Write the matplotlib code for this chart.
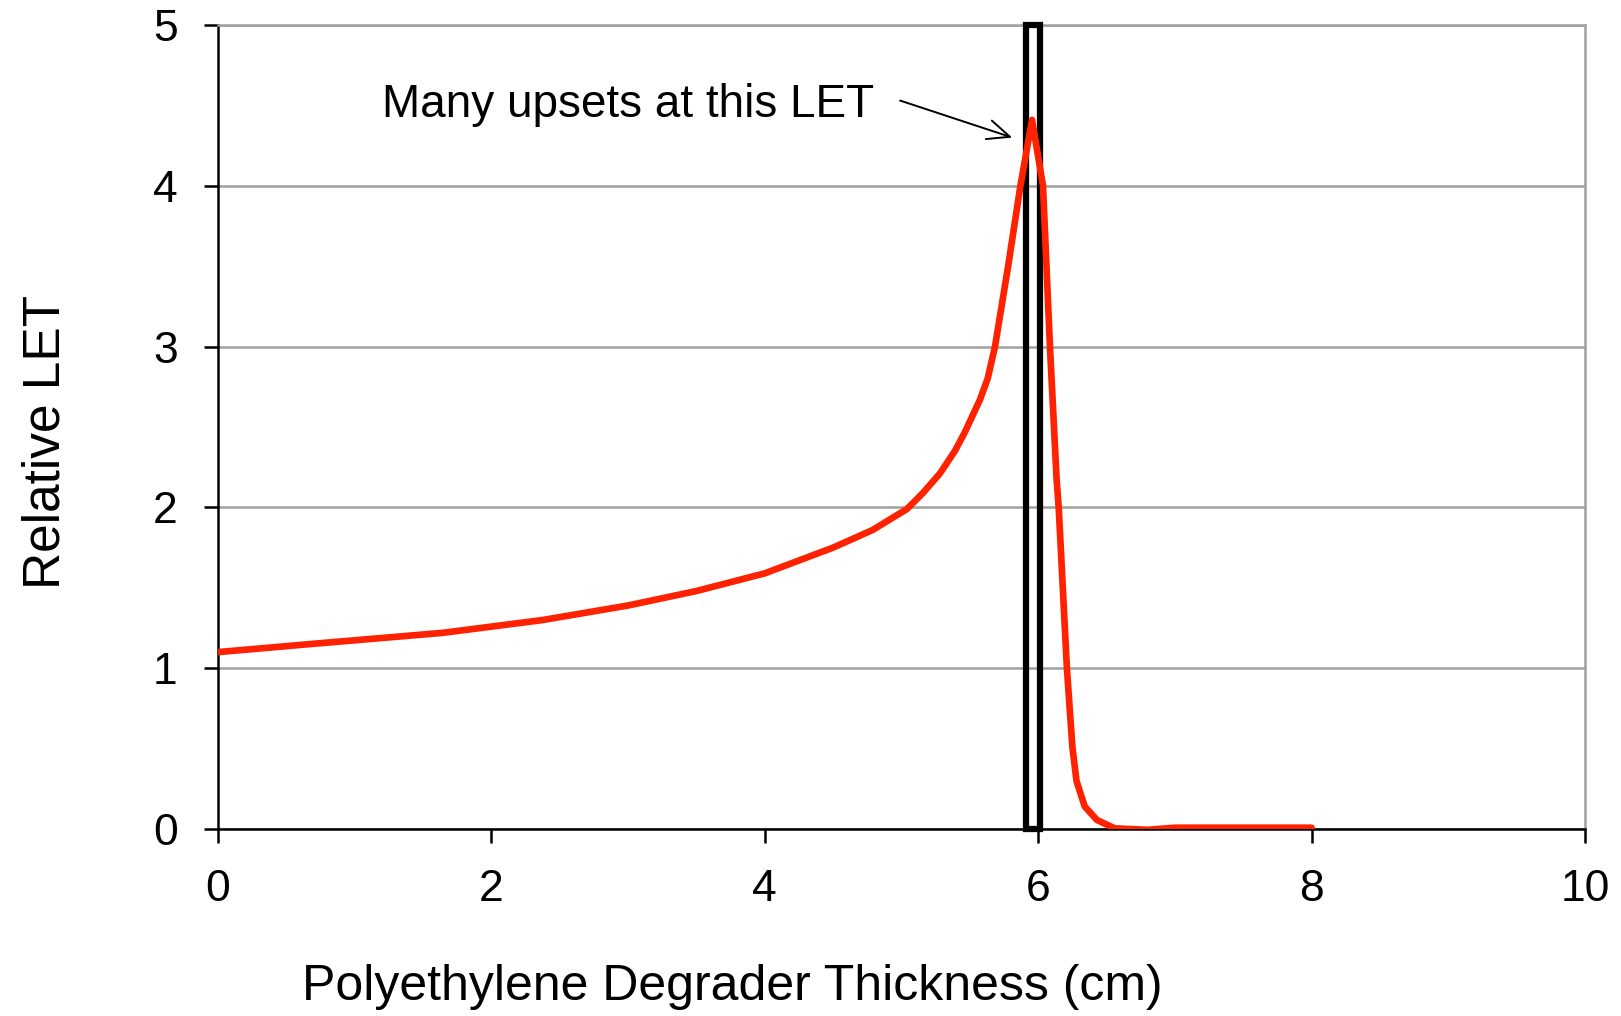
import matplotlib
matplotlib.use("Agg")
from matplotlib import pyplot as plt
from matplotlib.patches import Rectangle

plt.rcParams["font.family"] = ["Liberation Sans", "DejaVu Sans"]

# curve
thickness = [0.0, 0.673, 1.646, 2.378, 3.0, 3.5, 4.0, 4.5, 4.79, 5.04, 5.157,
             5.28, 5.39, 5.465, 5.574, 5.63, 5.684, 5.78, 5.87, 5.955, 6.035,
             6.086, 6.135, 6.15, 6.21, 6.25, 6.28, 6.34, 6.43, 6.56, 6.8, 7.0, 8.0]
rel_let = [1.10, 1.15, 1.22, 1.30, 1.39, 1.48, 1.59, 1.75, 1.86, 1.99, 2.09,
           2.21, 2.35, 2.47, 2.67, 2.80, 3.0, 3.5, 4.0, 4.41, 4.0,
           3.0, 2.17, 2.0, 1.0, 0.51, 0.30, 0.14, 0.056, 0.004, -0.005, 0.008, 0.008]

window = (5.91, 6.01)   # highlighted thickness band
x_ticks = [0, 2, 4, 6, 8, 10]
y_ticks = [0, 1, 2, 3, 4, 5]

fig = plt.figure(figsize=(16.21, 10.16), dpi=100)
ax = fig.add_axes([218 / 1621, 1 - 829 / 1016, 1367 / 1621, 804 / 1016])

ax.set_xlim(0, 10)
ax.set_ylim(0, 5)
ax.set_xticks(x_ticks)
ax.set_yticks(y_ticks)
ax.grid(True, axis="y", color="#a0a0a0", linewidth=1.8)
ax.set_axisbelow(True)

ax.add_patch(Rectangle((window[0], 0), window[1] - window[0], 5, fill=False,
                       edgecolor="black", linewidth=4.5, clip_on=False, zorder=3))
ax.plot(thickness, rel_let, color="#ff2200", linewidth=4.8, zorder=4,
        solid_capstyle="round", solid_joinstyle="round")

ax.text(4.80, 4.50, "Many upsets at this LET", ha="right", va="center", fontsize=33)
ax.annotate("", xy=(5.81, 4.30), xytext=(4.99, 4.53),
            arrowprops=dict(arrowstyle="->,head_length=0.8,head_width=0.35",
                            color="black", lw=1.4, mutation_scale=20,
                            shrinkA=0, shrinkB=0))

for side in ["top", "right"]:
    ax.spines[side].set_color("#a0a0a0")
    ax.spines[side].set_linewidth(1.8)
for side in ["left", "bottom"]:
    ax.spines[side].set_color("black")
    ax.spines[side].set_linewidth(1.8)

ax.tick_params(direction="out", length=10, width=1.8, labelsize=32, pad=19)
ax.set_xlabel("Polyethylene Degrader Thickness (cm)", fontsize=36)
ax.set_ylabel("Relative LET", fontsize=37)
ax.xaxis.set_label_coords(0.376, -0.168)
ax.yaxis.set_label_coords(-0.108, 0.481)

fig.savefig("out.png", dpi=100)
